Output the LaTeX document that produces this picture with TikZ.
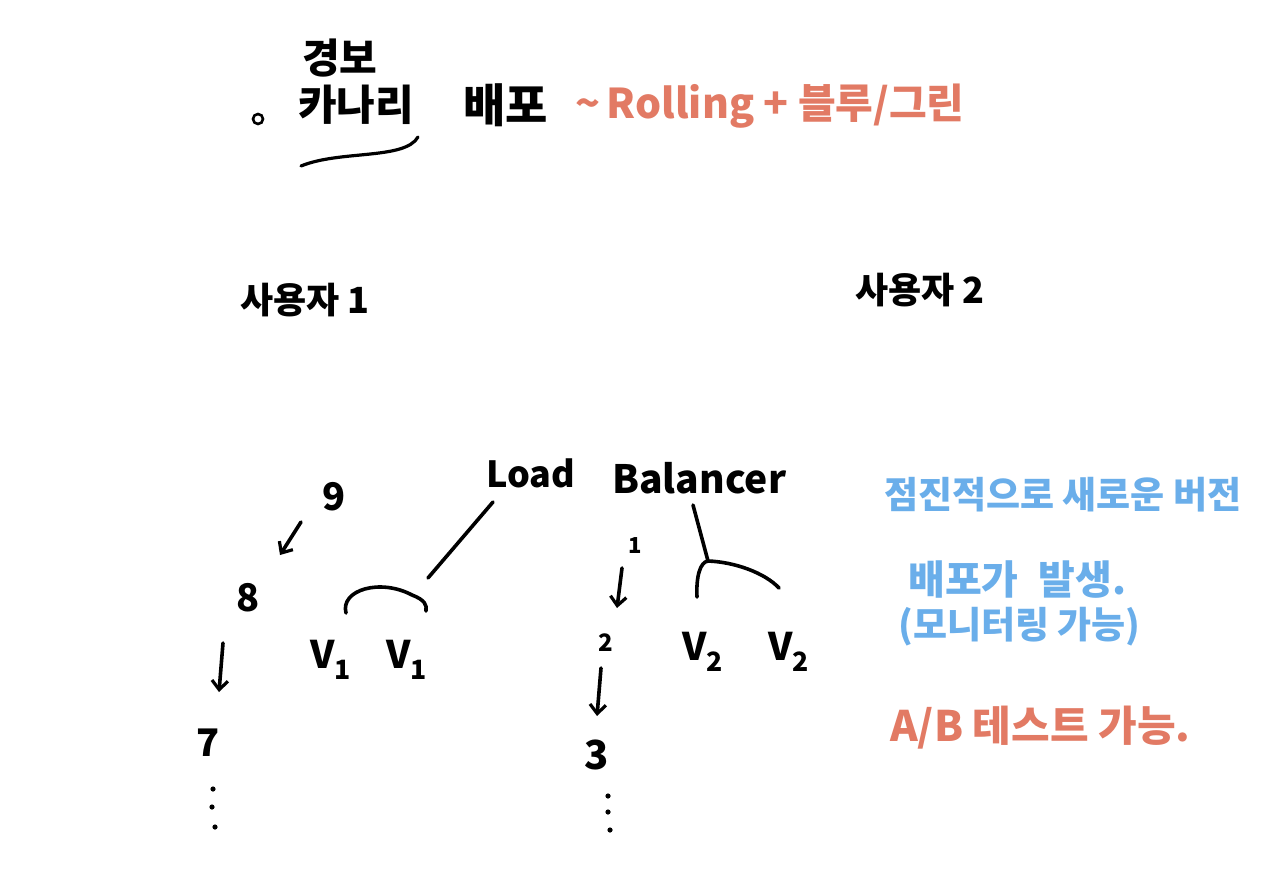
\documentclass[tikz,border=0pt]{standalone}
\usepackage{fontspec}
\setmainfont{Noto Sans CJK KR}
\usetikzlibrary{arrows.meta}
\definecolor{penred}{HTML}{E27A64}
\definecolor{penblue}{HTML}{6AAEEA}
\begin{document}
\begin{tikzpicture}[x=1pt,y=-1pt,
  txt/.style={inner sep=0pt, anchor=west, font=\fontsize{#1}{#1}\selectfont\bfseries},
  txt/.default=36,
  pen/.style={line width=3.6pt, line cap=round, line join=round},
  arr/.style={pen, -{Straight Barb[length=9pt,width=16pt,line width=3.2pt]}}]
\useasboundingbox (0,0) rectangle (1285,880);
\fill[white] (0,0) rectangle (1285,880);

% header
\node[txt=41] (title) at (302,58) {경보};
\draw[line width=2.6pt] (258,119) circle (5);
\node[txt=42] (canary) at (298,105) {카나리};
\node[txt=46] (deploy) at (463,105) {배포};
\node[txt=41, text=penred] (rolling) at (575,106) {\textasciitilde\,Rolling + 블루/그린};
\draw[pen, line width=3.2pt] (301,166) .. controls (340,150) and (405,160) .. (418,137);

% users
\node[txt=36] (user1) at (240,300) {사용자 1};
\node[txt=36] (user2) at (855,290) {사용자 2};

% load balancer
\node[txt=36] (load) at (486,473) {Load};
\node[txt=39] (bal) at (612,478) {Balancer};

% left side
\node[txt=38] (n9) at (322,497) {9};
\node[txt=38] (n8) at (236,598) {8};
\node[txt=38] (n7) at (196,743) {7};
\coordinate (a9s) at (301,522); \coordinate (a9e) at (280,555);
\coordinate (a8s) at (223,643); \coordinate (a8e) at (219,692);
\draw[arr] (a9s) -- (a9e);
\draw[arr] (a8s) -- (a8e);
\foreach \y/\x in {789/213,807/212,827/215} \fill (\x,\y) circle (2.6);

\node[txt=38] (v1a) at (310,660) {V\textsubscript{1}};
\node[txt=38] (v1b) at (386,660) {V\textsubscript{1}};
\coordinate (lbL) at (493,502);
\coordinate (arcL1) at (346,613);
\coordinate (arcL2) at (426,611);
\coordinate (arcLtop) at (428,578);
\draw[pen] (lbL) -- (arcLtop);
\draw[pen] (arcL1) .. controls (340,590) and (380,578) .. (412,595) .. controls (425,600) and (427,605) .. (arcL2);

% right side
\node[txt=22] (n1) at (628,546) {1};
\node[txt=24] (n2) at (598,643) {2};
\node[txt=40] (n3) at (584,755) {3};
\coordinate (a1s) at (622,568); \coordinate (a1e) at (617,608);
\coordinate (a2s) at (601,668); \coordinate (a2e) at (597,716);
\draw[arr] (a1s) -- (a1e);
\draw[arr] (a2s) -- (a2e);
\foreach \y/\x in {796/608,812/608,830/610} \fill (\x,\y) circle (2.6);

\node[txt=38] (v2a) at (682,652) {V\textsubscript{2}};
\node[txt=38] (v2b) at (768,652) {V\textsubscript{2}};
\coordinate (lbR) at (693,505);
\coordinate (joinR) at (708,561);
\draw[pen] (lbR) -- (joinR);
\draw[pen] (697,597) .. controls (696,577) and (700,562) .. (joinR) .. controls (735,562) and (765,573) .. (779,588);

% notes
\node[txt=37, text=penblue] (note1) at (884,495) {점진적으로 새로운 버전};
\node[txt=40, text=penblue] (note2) at (908,580) {배포가\hspace{0.5em}발생.};
\node[txt=37, text=penblue] (note3) at (898,627) {(모니터링 가능)};
\node[txt=42, text=penred] (note4) at (890,728) {A/B 테스트 가능.};
\end{tikzpicture}
\end{document}
